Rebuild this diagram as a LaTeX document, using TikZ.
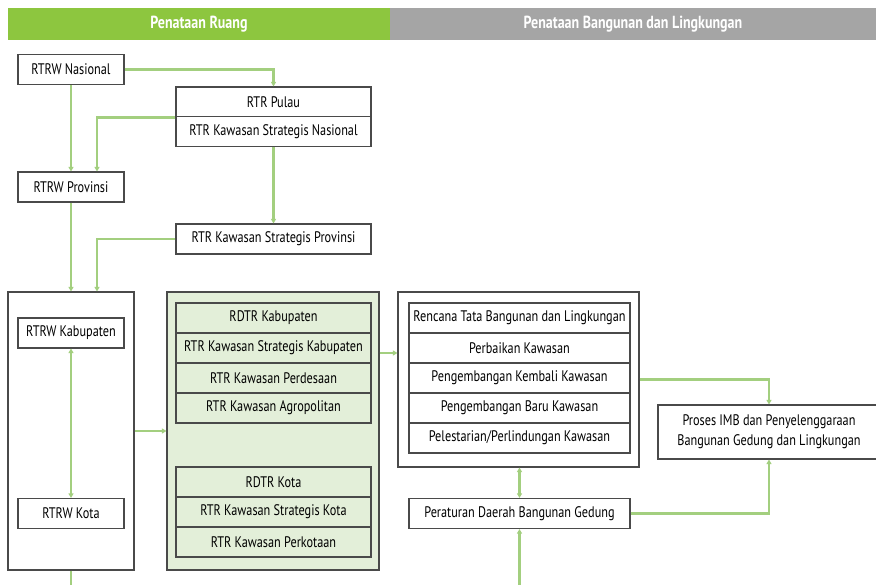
\documentclass[tikz,border=0pt]{standalone}
\usepackage{fontspec}
\setmainfont{PT Sans}[FakeStretch=0.8]
\usetikzlibrary{arrows.meta}
\definecolor{hdrgreen}{HTML}{8DC63F}
\definecolor{hdrgray}{HTML}{A5A5A5}
\definecolor{linkgreen}{HTML}{A3CF7F}
\definecolor{panelgreen}{HTML}{E3EFD9}
\definecolor{edgegray}{HTML}{4A4A4A}
\begin{document}
\begin{tikzpicture}[x=1pt,y=-1pt,
  font=\fontsize{15.3}{16}\selectfont,
  cell/.style={draw=edgegray,line width=1.1pt,fill=white,inner sep=0pt,
    text=black,minimum width=106pt,minimum height=30pt},
  wide/.style={cell,minimum width=195pt},
  wider/.style={cell,minimum width=221pt},
  shaded/.style={wide,fill=panelgreen},
  panel/.style={draw=edgegray,line width=1.1pt,inner sep=0pt},
  band/.style={inner sep=0pt,minimum height=32pt,text=white,
    font=\fontsize{17.5}{18}\selectfont\bfseries},
  link/.style={draw=linkgreen,line width=2.2pt},
  arr/.style={link,-{Triangle[width=5pt,length=4.5pt]}},
  twoway/.style={link,{Triangle[width=5pt,length=4.5pt]}-{Triangle[width=5pt,length=4.5pt]}}]
\useasboundingbox (0,0) rectangle (876,585);
\fill[white] (0,0) rectangle (876,585);

% header bands
\node[band,fill=hdrgreen,minimum width=382pt] (bandL) at (199,24) {Penataan Ruang};
\node[band,fill=hdrgray,minimum width=486pt] (bandR) at (633,24) {Penataan Bangunan dan Lingkungan};

% national and provincial plans
\node[cell] (nas) at (71,69.5) {RTRW Nasional};
\node[wide] (pulau) at (273.5,102) {RTR Pulau};
\node[wide] (ksn) at (273.5,131.5) {RTR Kawasan Strategis Nasional};
\node[cell] (prov) at (71,187) {RTRW Provinsi};
\node[wide] (ksp) at (273.5,239) {RTR Kawasan Strategis Provinsi};

% regency / city plans
\node[panel,fill=white,minimum width=126pt,minimum height=278pt] (left) at (71,431) {};
\node[cell] (kab) at (71,333) {RTRW Kabupaten};
\node[cell] (kota) at (71,513.5) {RTRW Kota};

% detailed plans
\node[panel,fill=panelgreen,minimum width=212pt,minimum height=278pt] (mid) at (273,431) {};
\node[shaded] (r1) at (273.5,318) {RDTR Kabupaten};
\node[shaded] (r2) at (273.5,348) {RTR Kawasan Strategis Kabupaten};
\node[shaded] (r3) at (273.5,378) {RTR Kawasan Perdesaan};
\node[shaded] (r4) at (273.5,408) {RTR Kawasan Agropolitan};
\node[shaded] (r5) at (273.5,482) {RDTR Kota};
\node[shaded] (r6) at (273.5,512) {RTR Kawasan Strategis Kota};
\node[shaded] (r7) at (273.5,542) {RTR Kawasan Perkotaan};

% building and environment planning
\node[panel,fill=white,minimum width=241pt,minimum height=175pt] (bld) at (518.5,379.5) {};
\node[wider] (b1) at (519.5,318) {Rencana Tata Bangunan dan Lingkungan};
\node[wider] (b2) at (519.5,348) {Perbaikan Kawasan};
\node[wider] (b3) at (519.5,378) {Pengembangan Kembali Kawasan};
\node[wider] (b4) at (519.5,408) {Pengembangan Baru Kawasan};
\node[wider] (b5) at (519.5,438) {Pelestarian/Perlindungan Kawasan};
\node[wider] (perda) at (519.5,513.5) {Peraturan Daerah Bangunan Gedung};
\node[cell,minimum width=222pt,minimum height=54pt,align=center] (imb) at (769,432)
  {Proses IMB dan Penyelenggaraan\\[4pt]Bangunan Gedung dan Lingkungan};

\coordinate (leftout) at (71,590);
\coordinate (perdain) at (519.5,590);

% connectors
\draw[arr] (nas.east) -| (pulau.north);
\draw[arr] (nas.south) -- (prov.north);
\draw[arr] (pulau.south west) -| ([xshift=26pt]prov.north);
\draw[arr] (ksn.south) -- (ksp.north);
\draw[arr] (prov.south) -- (left.north);
\draw[arr] (ksp.west) -| ([xshift=26pt]left.north);
\draw[twoway] (kab.south) -- (kota.north);
\draw[link] (left.south) -- (leftout);
\draw[arr] (left.east) -- (mid.west);
\draw[arr] ([yshift=78pt]mid.east) -- ([yshift=78pt]mid.east -| bld.west);
\draw[arr] (bld.east) -| (imb.north);
\draw[twoway] (bld.south -| perda.north) -- (perda.north);
\draw[arr] (perda.east) -| (imb.south);
\draw[arr] (perdain) -- (perda.south);
\end{tikzpicture}
\end{document}
